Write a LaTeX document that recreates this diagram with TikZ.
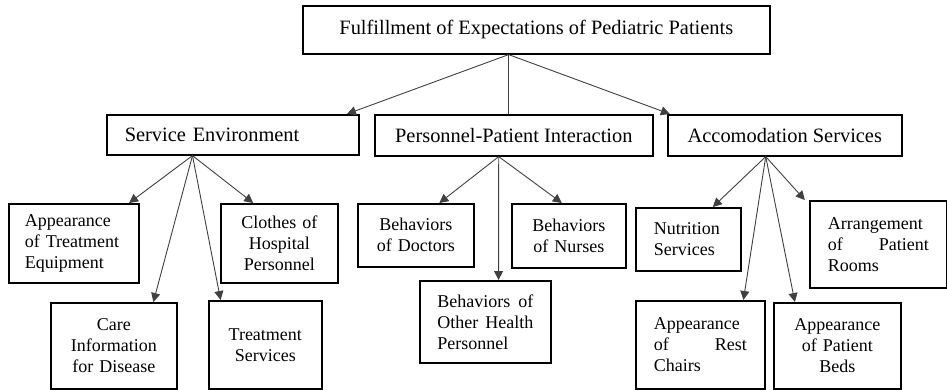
\documentclass[tikz,border=0pt]{standalone}
\usepackage{fontspec}
\setmainfont{Liberation Serif}
\usetikzlibrary{arrows.meta,calc}
\tikzset{
  bx/.style={draw=black, line width=1.6pt, inner sep=0pt, anchor=north west,
    font=\fontsize{18}{21}\selectfont},
  bigbx/.style={bx, font=\fontsize{20.4}{24}\selectfont},
  conn/.style={draw=black!75, line width=0.9pt},
  arr/.style={conn, -{Triangle[length=9pt,width=9pt]}}
}
\begin{document}
\begin{tikzpicture}[x=1pt,y=-1pt]
\useasboundingbox (0,0) rectangle (947,389);
% level 1
\node[bigbx, minimum width=467pt, minimum height=48pt] (top) at (302,5) {Fulfillment of Expectations of Pediatric Patients};
% level 2
\node[bigbx, minimum width=252pt, minimum height=40pt, text width=216pt, align=left] (se) at (106,114) {Service Environment};
\node[bigbx, minimum width=278pt, minimum height=41pt, align=center] (pp) at (374,114) {Personnel-Patient Interaction};
\node[bigbx, minimum width=234pt, minimum height=41pt, align=center] (ac) at (667,114) {Accomodation Services};
% level 3
\node[bx, minimum width=130pt, minimum height=79pt, text width=98pt, align=left] (app) at (8,203) {Appearance\\of Treatment\\Equipment};
\node[bx, minimum width=117pt, minimum height=79pt, text width=110pt, align=center] (clo) at (220,203) {Clothes of\\Hospital\\Personnel};
\node[bx, minimum width=126pt, minimum height=86pt, text width=118pt, align=center] (care) at (50,302) {Care\\Information\\for Disease};
\node[bx, minimum width=113pt, minimum height=88pt, text width=106pt, align=center] (treat) at (208,300) {Treatment\\Services};
\node[bx, minimum width=116pt, minimum height=63pt, text width=108pt, align=center] (doc) at (357,203) {Behaviors\\of Doctors};
\node[bx, minimum width=114pt, minimum height=64pt, text width=106pt, align=center] (nur) at (511,203) {Behaviors\\of Nurses};
\node[bx, minimum width=131pt, minimum height=82pt, text width=96pt, align=left] (oth) at (419,280) {\makebox[96pt][l]{Behaviors\hfill of}\\\makebox[96pt][l]{Other\hfill Health}\\Personnel};
\node[bx, minimum width=105pt, minimum height=63pt, text width=69pt, align=left] (nut) at (635,207) {Nutrition\\Services};
\node[bx, minimum width=137pt, minimum height=87pt, text width=101pt, align=left] (arr) at (809,200) {Arrangement\\\makebox[101pt][l]{of\hfill Patient}\\Rooms};
\node[bx, minimum width=129pt, minimum height=88pt, text width=93pt, align=left] (rest) at (635,300) {Appearance\\\makebox[93pt][l]{of\hfill Rest}\\Chairs};
\node[bx, minimum width=127pt, minimum height=86pt, text width=119pt, align=center] (beds) at (773,302) {Appearance\\of Patient\\Beds};
% junctions
\coordinate (j0) at ($(top.south west)!0.441!(top.south east)$);
\coordinate (j1) at ($(se.south west)!0.341!(se.south east)$);
\coordinate (j2) at ($(pp.south west)!0.446!(pp.south east)$);
\coordinate (j3) at ($(ac.south west)!0.419!(ac.south east)$);
% level 1 -> 2
\draw[arr] (j0) -- ($(se.north west)!0.95!(se.north east)$);
\draw[conn] (j0) -- (j0 |- pp.north);
\draw[arr] (j0) -- ($(ac.north west)!0.012!(ac.north east)$);
% service environment
\draw[arr] (j1) -- ($(app.north west)!0.92!(app.north east)$);
\draw[arr] (j1) -- ($(clo.north west)!0.28!(clo.north east)$);
\draw[arr] (j1) -- ($(care.north west)!0.81!(care.north east)$);
\draw[arr] (j1) -- ($(treat.north west)!0.11!(treat.north east)$);
% personnel
\draw[arr] (j2) -- ($(doc.north west)!0.70!(doc.north east)$);
\draw[arr] (j2) -- ($(nur.north west)!0.44!(nur.north east)$);
\draw[arr] (j2) -- ($(oth.north west)!0.60!(oth.north east)$);
% accommodation
\draw[arr] (j3) -- ($(nut.north west)!0.73!(nut.north east)$);
\draw[arr] (j3) -- ($(arr.north west)!-0.03!(arr.north east)$);
\draw[arr] (j3) -- ($(rest.north west)!0.83!(rest.north east)$);
\draw[arr] (j3) -- ($(beds.north west)!0.17!(beds.north east)$);
\end{tikzpicture}
\end{document}
